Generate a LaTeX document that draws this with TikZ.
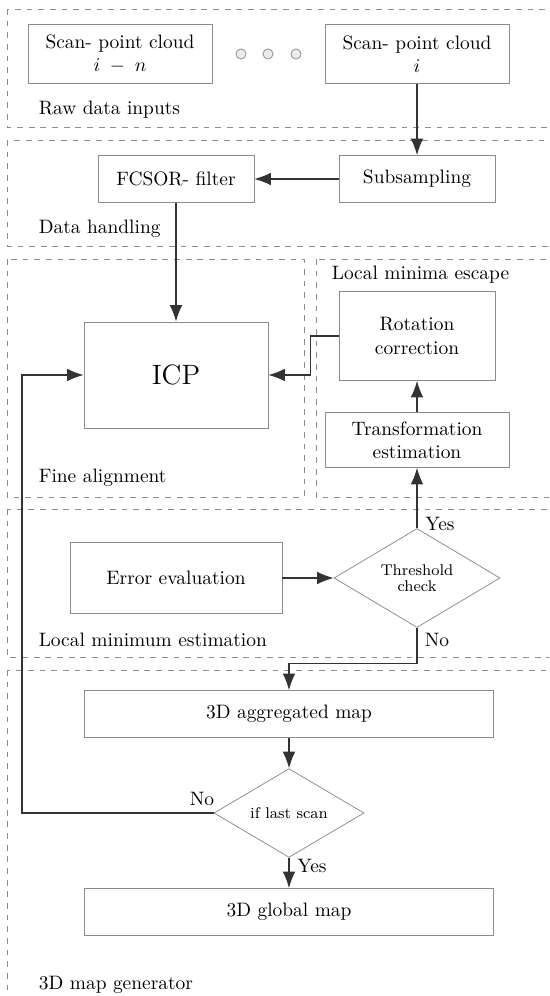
\documentclass[tikz,border=0pt]{standalone}
\usetikzlibrary{shapes.geometric,arrows.meta}

\begin{document}
\begin{tikzpicture}[x=0.515pt,y=-0.515pt,
    box/.style={draw=black!45, align=center, inner sep=2pt},
    decision/.style={draw=black!45, diamond, inner sep=0pt, align=center, font=\footnotesize},
    region/.style={draw=black!45, dashed},
    flow/.style={-{Latex[length=8.5pt,width=6.5pt]}, black!80, semithick},
    dot/.style={circle, draw=black!45, fill=black!8, minimum size=5.2pt, inner sep=0pt}]
    \clip (0,0) rectangle (549,996);

    % dashed stage frames
    \draw[region] (7,9) rectangle (560,127);
    \draw[region] (7,140) rectangle (560,246);
    \draw[region] (7,259) rectangle (304,497);
    \draw[region] (316,259) rectangle (560,497);
    \draw[region] (7,509) rectangle (560,657);
    \draw[region] (7,670) rectangle (560,1010);

    \node[anchor=west] (rawlbl) at (32,110) {Raw data inputs};
    \node[anchor=west] (handlbl) at (32,229) {Data handling};
    \node[anchor=west] (finelbl) at (32,478) {Fine alignment};
    \node[anchor=west] (esclbl) at (325,275) {Local minima escape};
    \node[anchor=west] (estlbl) at (32,640) {Local minimum estimation};
    \node[anchor=west] (genlbl) at (32,985) {3D map generator};

    % inputs
    \node[box, minimum width=94.8pt, minimum height=30.4pt] (scanold) at (120,54) {Scan- point cloud\\$i\;-\;n$};
    \node[box, minimum width=94.8pt, minimum height=30.4pt] (scan) at (417,54) {Scan- point cloud\\$i$};
    \node[dot] (dota) at (241,54) {};
    \node[dot] (dotb) at (268,54) {};
    \node[dot] (dotc) at (296,54) {};

    % processing boxes
    \node[box, minimum width=80.3pt, minimum height=24.2pt] (sub) at (417,179) {Subsampling};
    \node[box, minimum width=80.3pt, minimum height=24.2pt] (fcsor) at (176,179) {FCSOR- filter};
    \node[box, minimum width=94.8pt, minimum height=54.6pt, font=\Large] (icp) at (176,375) {ICP};
    \node[box, minimum width=80.3pt, minimum height=45.8pt] (rot) at (417,336) {Rotation\\correction};
    \node[box, minimum width=94.8pt, minimum height=28.3pt] (trans) at (417,440) {Transformation\\estimation};
    \node[box, minimum width=109.2pt, minimum height=36.6pt] (err) at (176,578) {Error evaluation};
    \node[decision, minimum width=85.5pt, minimum height=49.4pt] (thr) at (417,578) {Threshold\\[-1.5pt]check};
    \node[box, minimum width=210.6pt, minimum height=24.2pt] (agg) at (289,714) {3D aggregated map};
    \node[decision, minimum width=77.3pt, minimum height=40.7pt] (last) at (289,813) {if last scan};
    \node[box, minimum width=210.6pt, minimum height=24.2pt] (glob) at (289,912) {3D global map};
    \coordinate (loop) at (22,813);

    % connectors
    \draw[flow] (scan) -- (sub);
    \draw[flow] (sub) -- (fcsor);
    \draw[flow] (fcsor) -- (icp);
    \draw[flow] (rot.west) -- ++(-28,0) |- (icp.east);
    \draw[flow] (trans) -- (rot);
    \draw[flow] (thr.north) -- (trans.south);
    \draw[flow] (err.east) -- (thr.west);
    \draw[flow] (thr.south) -- ++(0,36) -| (agg.north);
    \draw[flow] (agg) -- (last);
    \draw[flow] (last.south) -- (glob.north);
    \draw[flow] (last.west) -- (loop) |- (icp.west);

    \node (yesa) at (440,524) {Yes};
    \node (noa) at (437,640) {No};
    \node (nob) at (202,799) {No};
    \node (yesb) at (312,866) {Yes};
\end{tikzpicture}
\end{document}
